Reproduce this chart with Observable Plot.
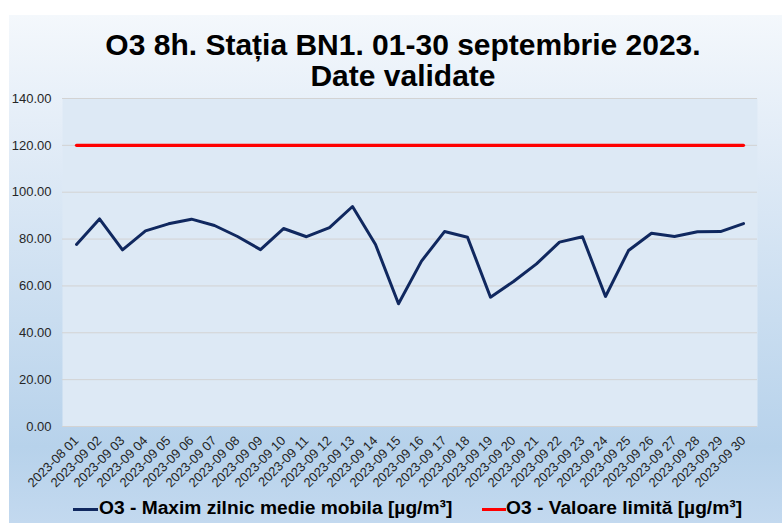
<!DOCTYPE html>
<html>
<head>
<meta charset="utf-8">
<script src="https://cdn.jsdelivr.net/npm/d3@7"></script>
<script src="https://cdn.jsdelivr.net/npm/@observablehq/plot@0.6"></script>
<style>
  html, body { margin: 0; padding: 0; background: #ffffff; }
  body { width: 782px; height: 523px; overflow: hidden; position: relative; font-family: "Liberation Sans", Arial, sans-serif; }
  #box { position: absolute; left: 9px; top: 15px; width: 773px; height: 508px;
    background: linear-gradient(to bottom, #f4f8fc 0%, #e2ecf7 25%, #c9ddf0 60%, #b7d2eb 85%, #c3d9ef 100%); }
  #title { position: absolute; left: 0; top: 29px; width: 806px; text-align: center; font-weight: bold; font-size: 30px; line-height: 31px; color: #000; }
  #chart { position: absolute; left: 0; top: 88px; }
  #chart svg { overflow: visible; }
  .leg { position: absolute; top: 497px; font-weight: bold; font-size: 19.2px; line-height: 22px; color: #000; white-space: nowrap; }
  .sw { position: absolute; height: 3px; top: 508px; }
</style>
</head>
<body>
<div id="box"></div>
<div id="title">O3 8h. Stația BN1. 01-30 septembrie 2023.<br>Date validate</div>
<div id="chart"></div>
<div class="sw" style="left:73px;width:25px;background:#10285f"></div>
<div class="leg" style="left:99px">O3 - Maxim zilnic medie mobila [µg/m³]</div>
<div class="sw" style="left:482px;width:24px;background:#ff0000"></div>
<div class="leg" style="left:506px">O3 - Valoare limită [µg/m³]</div>
<script>
const dates = ["2023-08 01","2023-09 02","2023-09 03","2023-09 04","2023-09 05","2023-09 06","2023-09 07","2023-09 08","2023-09 09","2023-09 10",
  "2023-09 11","2023-09 12","2023-09 13","2023-09 14","2023-09 15","2023-09 16","2023-09 17","2023-09 18","2023-09 19","2023-09 20",
  "2023-09 21","2023-09 22","2023-09 23","2023-09 24","2023-09 25","2023-09 26","2023-09 27","2023-09 28","2023-09 29","2023-09 30"];
const o3Max = [77.7, 88.6, 75.4, 83.5, 86.5, 88.5, 85.8, 81.1, 75.5, 84.5,
  81.0, 84.9, 93.9, 77.7, 52.4, 70.6, 83.2, 80.8, 55.2, 61.9,
  69.4, 78.7, 81.0, 55.5, 75.1, 82.5, 81.1, 83.1, 83.2, 86.6];
const limitValue = dates.map(() => 120);
const yTicks = [0, 20, 40, 60, 80, 100, 120, 140];

const rows = dates.map((d, i) => ({date: d, o3: o3Max[i], limit: limitValue[i]}));

const chart = Plot.plot({
  width: 782,
  height: 412,
  marginTop: 10,
  marginBottom: 74,
  marginLeft: 62,
  marginRight: 25,
  style: {fontFamily: "'Liberation Sans', Arial, sans-serif", fontSize: "13px", color: "#262626", background: "transparent"},
  x: {type: "point", domain: dates, padding: 0.5, label: null},
  y: {domain: [0, 140], label: null},
  marks: [
    Plot.frame({fill: "#dde9f5", stroke: null}),
    Plot.ruleY(yTicks, {stroke: "#d3d3d3", strokeWidth: 1}),
    Plot.axisY({ticks: yTicks, tickFormat: d => d.toFixed(2), tickSize: 0, tickPadding: 11, fontSize: 13, label: null}),
    Plot.axisX({tickRotate: -45, tickSize: 0, tickPadding: 12, fontSize: 13, label: null}),
    Plot.line(rows, {x: "date", y: "limit", stroke: "#ff0000", strokeWidth: 3.2}),
    Plot.line(rows, {x: "date", y: "o3", stroke: "#10285f", strokeWidth: 3})
  ]
});
document.getElementById("chart").appendChild(chart);
</script>
</body>
</html>
